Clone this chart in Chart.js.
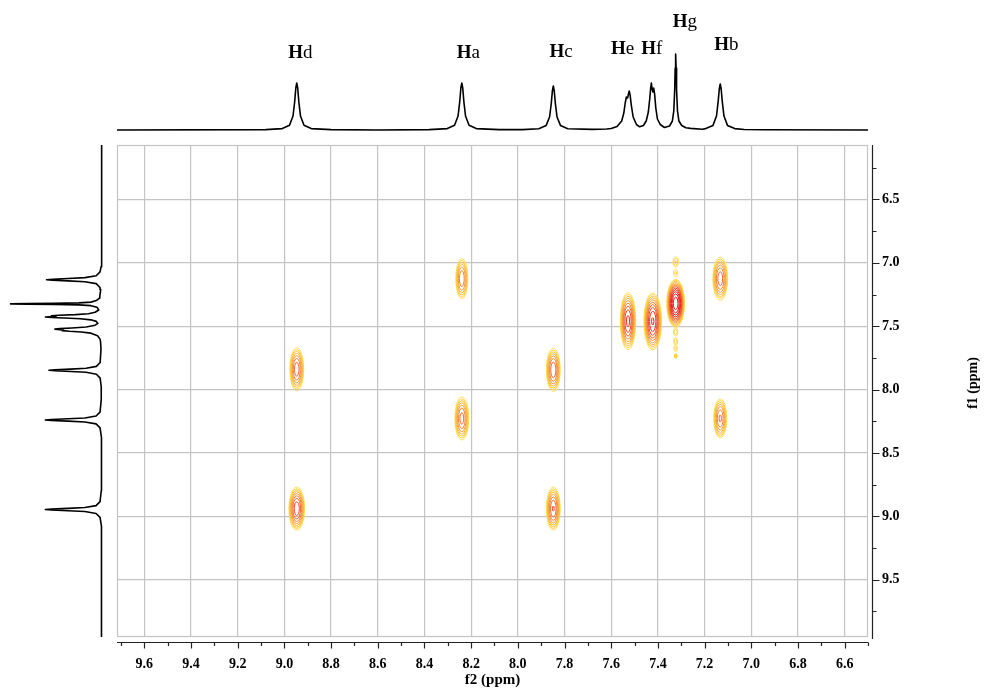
<!DOCTYPE html>
<html>
<head>
<meta charset="utf-8">
<title>COSY</title>
<script src="https://cdn.jsdelivr.net/npm/chart.js@4.4.0/dist/chart.umd.min.js"></script>
<style>
  body { margin: 0; background: #fff; }
  #wrap { position: relative; width: 985px; height: 691px; overflow: hidden; }
  #wrap canvas { position: absolute; }
</style>
</head>
<body>
<div id="wrap">
  <canvas id="cosy" width="985" height="691" style="left:0;top:0"></canvas>
  <canvas id="proj-top" width="751" height="132" style="left:117px;top:0"></canvas>
  <canvas id="proj-left" width="104" height="492" style="left:0;top:145px"></canvas>
</div>
<script>
// axis ranges (ppm)
const F2_MIN = 6.5, F2_MAX = 9.717;
const F1_MIN = 6.07, F1_MAX = 9.953;

const F2_TICKS = [9.6, 9.4, 9.2, 9.0, 8.8, 8.6, 8.4, 8.2, 8.0, 7.8, 7.6, 7.4, 7.2, 7.0, 6.8, 6.6];
const F1_TICKS = [6.5, 7.0, 7.5, 8.0, 8.5, 9.0, 9.5];

// 1H trace (ppm / intensity), one line per multiplet
const SPEC_PPM = [
  10.0, 9.717, 9.08,
  9.009, 8.978, 8.963, 8.956, 8.951, 8.947, 8.943, 8.938, 8.931, 8.916, 8.885,
  8.80, 8.60, 8.38,
  8.302, 8.271, 8.256, 8.249, 8.244, 8.240, 8.236, 8.231, 8.224, 8.209, 8.178,
  8.08, 7.98,
  7.910, 7.879, 7.864, 7.857, 7.852, 7.848, 7.844, 7.839, 7.832, 7.817, 7.786,
  7.68, 7.62,
  7.60, 7.575, 7.555, 7.546, 7.540, 7.535, 7.530, 7.527, 7.523, 7.519, 7.514, 7.506, 7.492, 7.478,
  7.462, 7.450, 7.441, 7.435, 7.431, 7.428, 7.424, 7.421, 7.418, 7.414, 7.409, 7.402, 7.390,
  7.372, 7.350, 7.338, 7.332, 7.328, 7.326, 7.324, 7.322, 7.320, 7.316, 7.310, 7.298, 7.280, 7.26,
  7.21, 7.195, 7.164, 7.149, 7.142, 7.137, 7.133, 7.129, 7.124, 7.117, 7.102, 7.071, 7.03,
  6.95, 6.5, 6.0
];
const SPEC_INT = [
  0, 0, 0.4,
  1.4, 4.7, 14, 28, 42, 47, 42, 28, 14, 4.7, 1.4,
  0.4, 0, 0.4,
  1.4, 4.7, 14, 28, 42, 47, 42, 28, 14, 4.7, 1.4,
  0.4, 0.4,
  1.3, 4.4, 13, 26, 39, 44, 39, 26, 13, 4.4, 1.3,
  0.6, 1,
  1.5, 3.5, 9, 17, 27, 33, 32, 35, 39, 35, 25, 13, 5.5, 3.2,
  4.5, 9, 18, 31, 42, 47, 40, 38, 42, 36, 22, 11, 5.5,
  2.5, 4, 9, 19, 40, 62, 76, 62, 40, 19, 9, 4.5, 2.2, 1.6,
  0.8, 1.4, 4.6, 14, 28, 41, 46, 41, 28, 14, 4.6, 1.4, 0.5,
  0.2, 0, 0
];

// peak labels on the top trace
const LABEL_NAME = ['d', 'a', 'c', 'e', 'f', 'g', 'b'];
const LABEL_PPM = [8.947, 8.240, 7.848, 7.528, 7.423, 7.324, 7.133];

// cross peaks: f2, f1, half widths (ppm) and intensity
const CROSS_F2 = [8.947, 8.947, 8.240, 8.240, 7.848, 7.848, 7.528, 7.422, 7.324, 7.133, 7.133,
                  7.324, 7.324, 7.324, 7.324, 7.324, 7.324];
const CROSS_F1 = [7.840, 8.940, 7.125, 8.228, 7.845, 8.940, 7.460, 7.462, 7.320, 7.125, 8.228,
                  6.993, 7.080, 7.545, 7.620, 7.675, 7.735];
const CROSS_W2 = [0.030, 0.034, 0.026, 0.030, 0.030, 0.030, 0.033, 0.038, 0.038, 0.032, 0.028,
                  0.012, 0.009, 0.010, 0.009, 0.008, 0.006];
const CROSS_W1 = [0.17, 0.17, 0.16, 0.17, 0.17, 0.17, 0.225, 0.225, 0.19, 0.17, 0.155,
                  0.04, 0.03, 0.03, 0.03, 0.025, 0.02];
const CROSS_INT = [12, 18, 9, 11, 13, 14, 22, 30, 80, 12, 10,
                   2.2, 1.6, 2, 1.8, 1.6, 3];

const SERIF = '"Liberation Serif", "Times New Roman", serif';
const GRID = '#c4c4c4';
const AXIS = '#222';
const LEVELS = ['#ffe066', '#ffd23f', '#fcc23a', '#fbb03a', '#f89a36', '#f57f30', '#f2632a', '#ee4724', '#ea2c1e', '#e51818'];

const spectrum = SPEC_PPM.map((p, i) => ({ x: p, y: SPEC_INT[i] }));
const spectrumSide = SPEC_PPM.map((p, i) => ({ x: SPEC_INT[i], y: p }));

// gray box round the plot area
const framePlugin = {
  id: 'frame',
  beforeDatasetsDraw(chart) {
    const a = chart.chartArea, ctx = chart.ctx;
    ctx.save();
    ctx.strokeStyle = GRID;
    ctx.lineWidth = 1.2;
    ctx.strokeRect(a.left + 0.5, a.top + 0.5, a.right - a.left - 1, a.bottom - a.top - 1);
    ctx.restore();
  }
};

// black axes sit a few px off the box, with major + minor ticks
const axesPlugin = {
  id: 'offsetAxes',
  afterDraw(chart) {
    const a = chart.chartArea, ctx = chart.ctx;
    const xs = chart.scales.x, ys = chart.scales.y;
    const yAx = a.bottom + 5.5, xAx = a.right + 4.5;
    ctx.save();
    ctx.strokeStyle = AXIS;
    ctx.lineWidth = 1.2;
    ctx.beginPath();
    ctx.moveTo(a.left, yAx); ctx.lineTo(a.right, yAx);
    ctx.moveTo(xAx, a.top); ctx.lineTo(xAx, a.bottom + 2);
    F2_TICKS.forEach(v => {
      const px = Math.round(xs.getPixelForValue(v)) + 0.5;
      ctx.moveTo(px, yAx); ctx.lineTo(px, yAx + 6);
      [v + 0.1, v - 0.1].forEach(m => {
        if (m < F2_MIN - 1e-6 || m > F2_MAX) return;
        const mx = Math.round(xs.getPixelForValue(m)) + 0.5;
        ctx.moveTo(mx, yAx); ctx.lineTo(mx, yAx + 3.5);
      });
    });
    F1_TICKS.forEach(v => {
      const py = Math.round(ys.getPixelForValue(v)) + 0.5;
      ctx.moveTo(xAx, py); ctx.lineTo(xAx + 7, py);
      [v - 0.25, v + 0.25].forEach(m => {
        if (m < F1_MIN || m > F1_MAX) return;
        const my = Math.round(ys.getPixelForValue(m)) + 0.5;
        ctx.moveTo(xAx, my); ctx.lineTo(xAx + 4, my);
      });
    });
    ctx.stroke();

    // f1 title reads bottom to top
    ctx.fillStyle = '#000';
    ctx.font = 'bold 14px ' + SERIF;
    ctx.textAlign = 'center';
    ctx.textBaseline = 'middle';
    ctx.translate(a.right + 105, (a.top + a.bottom) / 2 - 8);
    ctx.rotate(-Math.PI / 2);
    ctx.fillText('f1 (ppm)', 0, 0);
    ctx.restore();
  }
};

// contour rings round every cross peak
const contourPlugin = {
  id: 'contours',
  afterDatasetsDraw(chart) {
    const ctx = chart.ctx, a = chart.chartArea;
    const xs = chart.scales.x, ys = chart.scales.y;
    const meta = chart.getDatasetMeta(0);
    ctx.save();
    ctx.beginPath();
    ctx.rect(a.left, a.top, a.right - a.left, a.bottom - a.top);
    ctx.clip();
    ctx.lineWidth = 1;
    meta.data.forEach((pt, i) => {
      const rx = Math.abs(xs.getPixelForValue(CROSS_F2[i] + CROSS_W2[i]) - pt.x);
      const ry = Math.abs(ys.getPixelForValue(CROSS_F1[i] + CROSS_W1[i]) - pt.y);
      const peak = CROSS_INT[i];
      const outer = Math.log(peak);
      for (let k = 0, lvl = 1; lvl < peak; k++, lvl *= 1.45) {
        const f = Math.sqrt(Math.log(peak / lvl) / outer);
        ctx.strokeStyle = LEVELS[Math.min(k, LEVELS.length - 1)];
        ctx.beginPath();
        ctx.ellipse(pt.x, pt.y, Math.max(rx * f, 0.6), Math.max(ry * f, 0.6), 0, 0, Math.PI * 2);
        ctx.stroke();
      }
    });
    ctx.restore();
  }
};

const labelPlugin = {
  id: 'peakLabels',
  afterDraw(chart) {
    const ctx = chart.ctx, xs = chart.scales.x;
    const nudge = { d: [-8.5, 58], a: [-5, 58], c: [-3.8, 57.3], e: [-17, 54], f: [-11.3, 54], g: [-3, 26.7], b: [-6, 50] };
    ctx.save();
    ctx.fillStyle = '#000';
    ctx.textBaseline = 'alphabetic';
    LABEL_NAME.forEach((n, i) => {
      const [dx, base] = nudge[n];
      let x = xs.getPixelForValue(LABEL_PPM[i]) + dx;
      ctx.font = 'bold 19px ' + SERIF;
      ctx.fillText('H', x, base);
      x += ctx.measureText('H').width;
      ctx.font = '19px ' + SERIF;
      ctx.fillText(n, x, base);
    });
    ctx.restore();
  }
};

const tickFont = { family: SERIF, size: 14, weight: 'bold' };

new Chart(document.getElementById('cosy'), {
  type: 'scatter',
  data: {
    datasets: [{
      data: CROSS_F2.map((x, i) => ({ x: x, y: CROSS_F1[i] })),
      pointRadius: 0,
      pointHoverRadius: 0
    }]
  },
  options: {
    responsive: false,
    animation: false,
    events: [],
    layout: { padding: { left: 117, top: 145, right: 0, bottom: 0 } },
    plugins: { legend: { display: false }, tooltip: { enabled: false } },
    scales: {
      x: {
        type: 'linear', position: 'bottom', reverse: true, min: F2_MIN, max: F2_MAX,
        afterBuildTicks: s => { s.ticks = F2_TICKS.map(v => ({ value: v })); },
        afterFit: s => { s.height = 54; },
        grid: { color: GRID, lineWidth: 1.2, drawTicks: false },
        border: { display: false },
        ticks: { padding: 19, color: '#000', font: tickFont, maxRotation: 0, autoSkip: false, callback: v => v.toFixed(1) },
        title: { display: true, text: 'f2 (ppm)', color: '#000', font: { family: SERIF, size: 15, weight: 'bold' }, padding: { top: 0, bottom: 2 } }
      },
      y: {
        type: 'linear', position: 'right', reverse: true, min: F1_MIN, max: F1_MAX,
        afterBuildTicks: s => { s.ticks = F1_TICKS.map(v => ({ value: v })); },
        afterFit: s => { s.width = 117; },
        grid: { color: GRID, lineWidth: 1.2, drawTicks: false },
        border: { display: false },
        ticks: { padding: 14, color: '#000', font: tickFont, autoSkip: false, callback: v => v.toFixed(1) }
      }
    }
  },
  plugins: [framePlugin, contourPlugin, axesPlugin]
});

// projection above the f2 axis
new Chart(document.getElementById('proj-top'), {
  type: 'scatter',
  data: {
    datasets: [{
      data: spectrum, showLine: true, borderColor: '#000', borderWidth: 1.6, borderJoinStyle: 'round',
      pointRadius: 0, tension: 0, clip: { left: 0, right: 0, top: false, bottom: false }
    }]
  },
  options: {
    responsive: false, animation: false, events: [],
    plugins: { legend: { display: false }, tooltip: { enabled: false } },
    scales: {
      x: { type: 'linear', display: false, reverse: true, min: F2_MIN, max: F2_MAX },
      y: { type: 'linear', display: false, min: -2, max: 130 }
    }
  },
  plugins: [labelPlugin]
});

// projection left of the f1 axis
new Chart(document.getElementById('proj-left'), {
  type: 'scatter',
  data: {
    datasets: [{
      data: spectrumSide, showLine: true, borderColor: '#000', borderWidth: 1.6, borderJoinStyle: 'round',
      pointRadius: 0, tension: 0, clip: { left: false, right: false, top: 0, bottom: 0 }
    }]
  },
  options: {
    responsive: false, animation: false, events: [],
    plugins: { legend: { display: false }, tooltip: { enabled: false } },
    scales: {
      x: { type: 'linear', display: false, reverse: true, min: -1.9, max: 84.8 },
      y: { type: 'linear', display: false, reverse: true, min: F1_MIN, max: F1_MAX }
    }
  }
});
</script>
</body>
</html>
